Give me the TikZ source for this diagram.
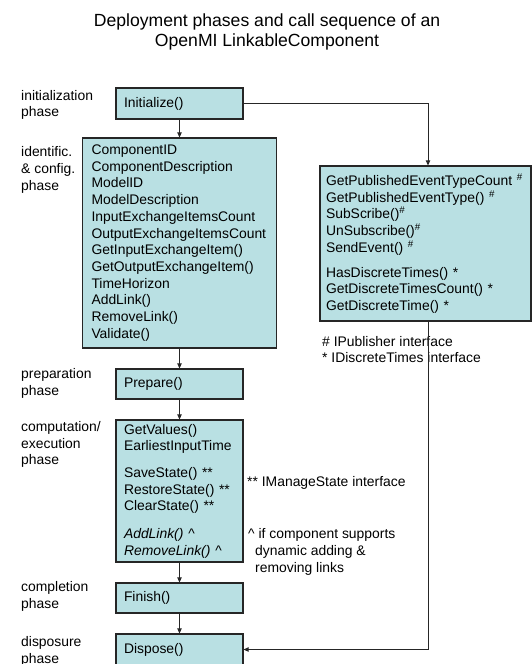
\documentclass[tikz,border=0pt]{standalone}
\usepackage{fontspec}
\setmainfont{Liberation Sans}
\usetikzlibrary{arrows.meta}
\definecolor{boxfill}{RGB}{185,224,227}
\begin{document}
\begin{tikzpicture}[x=1pt,y=-1pt,
  every node/.style={inner sep=0pt, font=\fontsize{13.9}{16.7}\selectfont},
  box/.style={draw=black!85, line width=1.2pt, fill=boxfill, align=left, inner xsep=8pt, inner ysep=0pt},
  conn/.style={draw=black!85, line width=0.9pt},
  arr/.style={conn, -{Triangle[length=5pt,width=4.5pt]}},
  lbl/.style={anchor=west, align=left}]
\useasboundingbox (0,0) rectangle (532,664);

\node[font=\fontsize{17.6}{20.2}\selectfont, align=center] (title) at (267,32)
  {Deployment phases and call sequence of an\\ OpenMI LinkableComponent};

\node[box, text width=111pt, minimum height=31pt] (init) at (179.5,103.5) {Initialize()};
\node[box, text width=176pt, inner xsep=9pt, minimum height=210pt] (ident) at (179.5,243)
  {ComponentID\\ ComponentDescription\\ ModelID\\ ModelDescription\\ InputExchangeItemsCount\\
   OutputExchangeItemsCount\\ GetInputExchangeItem()\\ GetOutputExchangeItem()\\ TimeHorizon\\
   AddLink()\\ RemoveLink()\\ Validate()};
\node[box, text width=111pt, minimum height=30pt] (prep) at (179.5,384) {Prepare()};
\node[box, text width=111pt, minimum height=142pt] (comp) at (179.5,491)
  {GetValues()\\ EarliestInputTime\\[10pt] SaveState() **\\ RestoreState() **\\ ClearState() **\\[11pt]
   \textit{AddLink() \textasciicircum}\\ \textit{RemoveLink() \textasciicircum}};
\node[box, text width=111pt, minimum height=30pt] (fin) at (179.5,598) {Finish()};
\node[box, text width=111pt, minimum height=31pt] (disp) at (179.5,649.5) {Dispose()};
\node[box, text width=199pt, inner xsep=6pt, minimum height=155pt] (pub) at (425.5,243.5)
  {GetPublishedEventTypeCount \textsuperscript{\#}\\ GetPublishedEventType() \textsuperscript{\#}\\
   SubScribe()\textsuperscript{\#}\\ UnSubscribe()\textsuperscript{\#}\\ SendEvent() \textsuperscript{\#}\\[8pt]
   HasDiscreteTimes() *\\ GetDiscreteTimesCount() *\\ GetDiscreteTime() *};

\node[lbl] (l1) at (21,105) {initialization\\phase};
\node[lbl] (l2) at (21,170) {identific.\\\& config.\\phase};
\node[lbl] (l3) at (21,383.5) {preparation\\phase};
\node[lbl] (l4) at (21,444.5) {computation/\\execution\\phase};
\node[lbl] (l5) at (21,596.5) {completion\\phase};
\node[lbl] (l6) at (21,651.5) {disposure\\phase};

\node[lbl] (n1) at (322,349.5) {\# IPublisher interface\\* IDiscreteTimes interface};
\node[lbl] (n2) at (247,483) {** IManageState interface};
\node[lbl] (n3) at (248,552) {\textasciicircum\ if component supports\\\hspace*{7pt}dynamic adding \&\\\hspace*{7pt}removing links};

\draw[arr] (init) -- (ident);
\draw[arr] (ident) -- (prep);
\draw[arr] (prep) -- (comp);
\draw[arr] (comp) -- (fin);
\draw[arr] (fin) -- (disp);
\draw[arr] (init.east) -| ([xshift=2.5pt]pub.north);
\draw[arr] ([xshift=2.5pt]pub.south) |- (disp.east);
\end{tikzpicture}
\end{document}
